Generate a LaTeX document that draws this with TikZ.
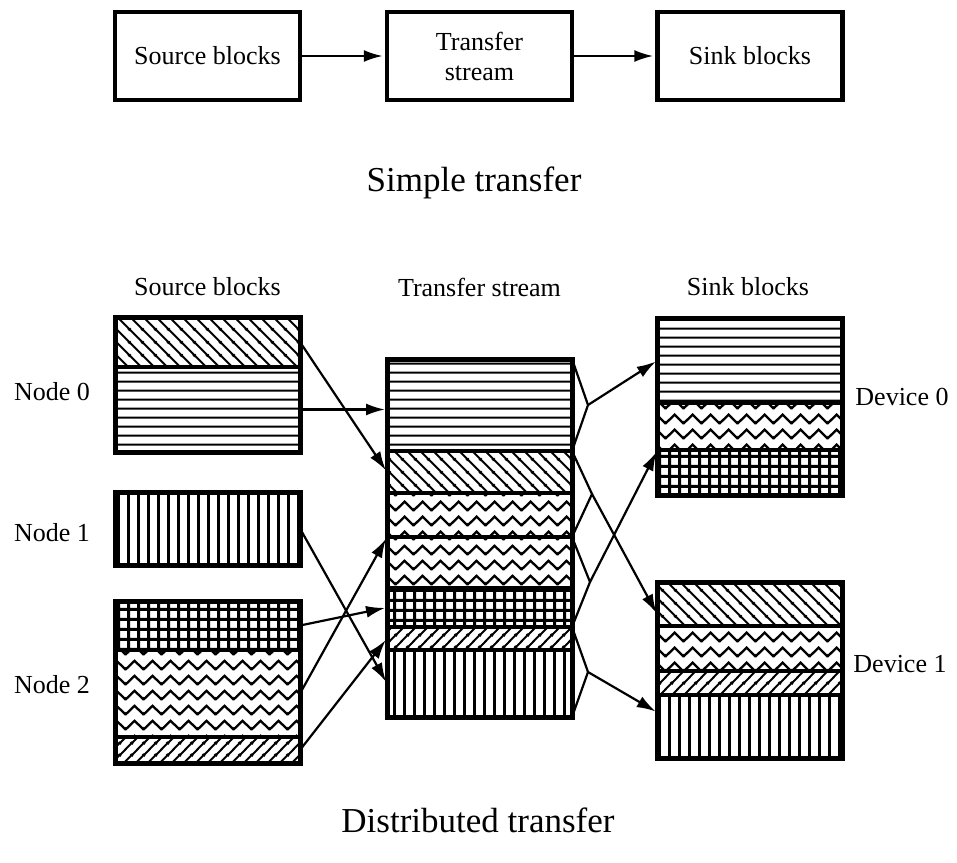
\documentclass[tikz,border=0pt]{standalone}
\usepackage{fontspec}
\setmainfont{Liberation Serif}
\usetikzlibrary{arrows.meta,patterns.meta}

\newcommand\lblfont{\fontsize{26}{30}\selectfont}
\newcommand\ttlfont{\fontsize{35}{40}\selectfont}

% fill patterns for the blocks
\tikzdeclarepattern{name=hl, bottom left={(0pt,0pt)}, top right={(8.8pt,8.8pt)}, tile size={(8.8pt,8.8pt)},
  code={\draw[line width=2pt] (-1pt,4.4pt) -- (9.8pt,4.4pt);}}
\tikzdeclarepattern{name=vl, bottom left={(0pt,0pt)}, top right={(9.5pt,9.5pt)}, tile size={(9.5pt,9.5pt)},
  code={\draw[line width=2.8pt] (4.75pt,-1pt) -- (4.75pt,10.5pt);}}
\tikzdeclarepattern{name=nwl, bottom left={(0pt,0pt)}, top right={(13pt,13pt)}, tile size={(13pt,13pt)},
  code={\draw[line width=2.1pt] (-1pt,14pt) -- (14pt,-1pt) (-1pt,1pt) -- (1pt,-1pt) (12pt,14pt) -- (14pt,12pt);}}
\tikzdeclarepattern{name=nel, bottom left={(0pt,0pt)}, top right={(12pt,12pt)}, tile size={(12pt,12pt)},
  code={\draw[line width=2.1pt] (-1pt,-1pt) -- (13pt,13pt) (-1pt,11pt) -- (1pt,13pt) (11pt,-1pt) -- (13pt,1pt);}}
\tikzdeclarepattern{name=grd, bottom left={(0pt,0pt)}, top right={(9.5pt,9.5pt)}, tile size={(9.5pt,9.5pt)},
  code={\draw[line width=3.2pt] (-1pt,4.75pt) -- (10.5pt,4.75pt) (4.75pt,-1pt) -- (4.75pt,10.5pt);}}
\tikzdeclarepattern{name=zz, bottom left={(0pt,0pt)}, top right={(18pt,14.5pt)}, tile size={(18pt,14.5pt)},
  code={\draw[line width=2.4pt, line join=miter] (-9pt,11.5pt) -- (0pt,3pt) -- (9pt,11.5pt) -- (18pt,3pt) -- (27pt,11.5pt);}}

\begin{document}
\begin{tikzpicture}[x=1pt, y=-1pt,
  sec/.style={draw, line width=3.5pt, minimum width=185pt, inner sep=0pt, outer sep=0pt},
  outline/.style={line width=5pt},
  box/.style={draw, line width=4.5pt, minimum width=185pt, minimum height=88pt, align=center, font=\lblfont},
  lbl/.style={font=\lblfont},
  ttl/.style={font=\ttlfont},
  arr/.style={-{Latex[length=19pt,width=12pt]}, line width=2.2pt, shorten >=2pt},
  ln/.style={line width=2.2pt}]
\useasboundingbox (0,0) rectangle (957,862);

% simple transfer
\node (src) at (207.5,56) [box] {Source blocks};
\node (trs) at (479.5,56) [box] {Transfer\\stream};
\node (snk) at (750,56) [box] {Sink blocks};
\draw[arr] (src) -- (trs);
\draw[arr] (trs) -- (snk);
\node (ttl1) at (474,183) [ttl] {Simple transfer};

% column heads
\node (hsrc) at (207.5,287) [lbl] {Source blocks};
\node (htrs) at (479.5,287) [lbl] {Transfer stream};
\node (hsnk) at (748,287) [lbl] {Sink blocks};

% source blocks
\node (s0a) at (207.5,342) [sec, minimum height=50pt, pattern=nwl] {};
\node (s0b) at (207.5,409.5) [sec, minimum height=85pt, pattern=hl] {};
\node (s1) at (207.5,528.5) [sec, minimum height=73pt, pattern=vl] {};
\node (s2a) at (207.5,625.5) [sec, minimum height=49pt, pattern=grd] {};
\node (s2b) at (207.5,693.5) [sec, minimum height=87pt, pattern=zz] {};
\node (s2c) at (207.5,750) [sec, minimum height=26pt, pattern=nel] {};
\draw[outline] (s0a.north west) rectangle (s0b.south east);
\draw[outline] (s1.north west) rectangle (s1.south east);
\draw[outline] (s2a.north west) rectangle (s2c.south east);
\node (nd0) at (52,392) [lbl] {Node 0};
\node (nd1) at (52,533) [lbl] {Node 1};
\node (nd2) at (52,685) [lbl] {Node 2};

% transfer stream
\node (t1) at (479.5,405) [sec, minimum height=92pt, pattern=hl] {};
\node (t2) at (479.5,472) [sec, minimum height=42pt, pattern=nwl] {};
\node (t3) at (479.5,515) [sec, minimum height=44pt, pattern=zz] {};
\node (t4) at (479.5,562.5) [sec, minimum height=51pt, pattern=zz] {};
\node (t5) at (479.5,607.5) [sec, minimum height=39pt, pattern=grd] {};
\node (t6) at (479.5,638.5) [sec, minimum height=23pt, pattern=nel] {};
\node (t7) at (479.5,683.5) [sec, minimum height=67pt, pattern=vl] {};
\draw[outline] (t1.north west) rectangle (t7.south east);

% sink blocks
\node (d1) at (750,360.5) [sec, minimum height=85pt, pattern=hl] {};
\node (d2) at (750,426.5) [sec, minimum height=47pt, pattern=zz] {};
\node (d3) at (750,472.5) [sec, minimum height=45pt, pattern=grd] {};
\node (e1) at (750,604) [sec, minimum height=44pt, pattern=nwl] {};
\node (e2) at (750,648.5) [sec, minimum height=45pt, pattern=zz] {};
\node (e3) at (750,683) [sec, minimum height=24pt, pattern=nel] {};
\node (e4) at (750,726.5) [sec, minimum height=63pt, pattern=vl] {};
\draw[outline] (d1.north west) rectangle (d3.south east);
\draw[outline] (e1.north west) rectangle (e4.south east);
\node (dv0) at (902,397) [lbl] {Device 0};
\node (dv1) at (900,664) [lbl] {Device 1};

% into the stream
\draw[arr] (s0a.east) -- (t2.west);
\draw[arr] (s0b.east) -- (s0b.east -| t1.west);
\draw[arr] (s1.east) -- (t7.west);
\draw[arr] (s2a.east) -- (t5.west);
\draw[arr] (s2b.east) -- (t3.south west);
\draw[arr] (s2c.east) -- (t6.west);

% out of the stream
\coordinate (jA) at (588,405);
\coordinate (jB) at (592,494);
\coordinate (jC) at (590,582);
\coordinate (jD) at (588,672);
\draw[ln] (t1.north east) -- (jA) -- (t1.south east);
\draw[ln] (t2.north east) -- (jB) -- (t3.south east);
\draw[ln] (t4.north east) -- (jC) -- (t5.south east);
\draw[ln] (t6.north east) -- (jD) -- (t7.south east);
\draw[arr] (jA) -- (d1.west);
\draw[arr] (jB) -- ([yshift=-11pt]e1.west);
\draw[arr] (jC) -- (d3.north west);
\draw[arr] (jD) -- ([yshift=14pt]e4.west);

\node (ttl2) at (478,820) [ttl] {Distributed transfer};
\end{tikzpicture}
\end{document}
